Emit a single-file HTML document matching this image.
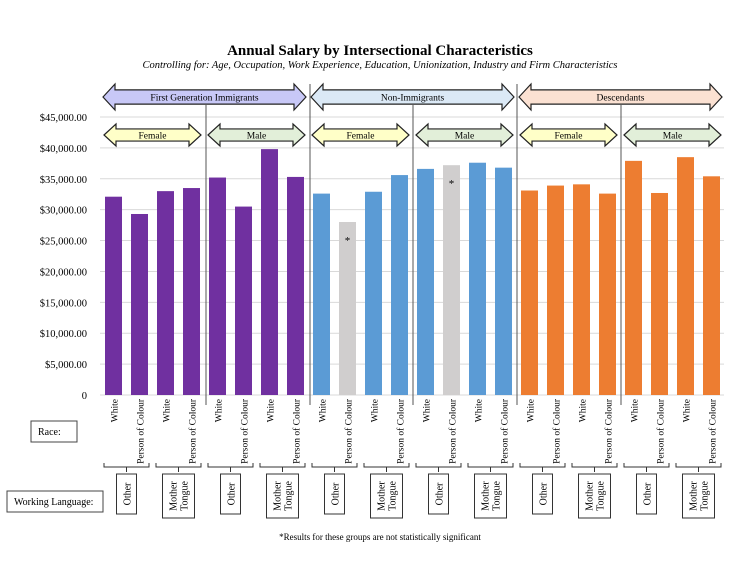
<!DOCTYPE html>
<html><head><meta charset="utf-8"><style>
body{margin:0;background:#fff;}
svg{display:block;font-family:"Liberation Serif",serif;}
</style></head><body>
<svg id="chart" width="754" height="583" viewBox="0 0 754 583">
<text x="380" y="55" text-anchor="middle" font-size="15" font-weight="bold">Annual Salary by Intersectional Characteristics</text>
<text x="380" y="68" text-anchor="middle" font-size="10.5" font-style="italic">Controlling for:  Age, Occupation, Work Experience, Education, Unionization, Industry and Firm Characteristics</text>
<g id="grid"></g><g id="bars"></g><g id="ann"></g>
</svg>
<script>
const categories=["White","Person of Colour","White","Person of Colour","White","Person of Colour","White","Person of Colour","White","Person of Colour","White","Person of Colour","White","Person of Colour","White","Person of Colour","White","Person of Colour","White","Person of Colour","White","Person of Colour","White","Person of Colour"];
const salaries=[32100,29300,33000,33500,35200,30500,39800,35300,32600,28000,32900,35600,36600,37200,37600,36800,33100,33900,34100,32600,37900,32700,38500,35400];
const notSignificant=[9,13];
const tickValues=[0,5000,10000,15000,20000,25000,30000,35000,40000,45000];
const tickLabels=["0","$5,000.00","$10,000.00","$15,000.00","$20,000.00","$25,000.00","$30,000.00","$35,000.00","$40,000.00","$45,000.00"];
const groups=["First Generation Immigrants","Non-Immigrants","Descendants"];
const genders=["Female","Male"];
const languages=["Other","Mother Tongue"];

const NS="http://www.w3.org/2000/svg";
function mk(parent,tag,attrs,text){const e=document.createElementNS(NS,tag);for(const k in attrs)e.setAttribute(k,attrs[k]);if(text!=null)e.textContent=text;parent.appendChild(e);return e;}
const y=v=>395-v*278/45000;
const x=i=>105+26*i;
const BW=17;
const grid=document.getElementById('grid'),bars=document.getElementById('bars'),ann=document.getElementById('ann');
tickValues.forEach((v,i)=>{
 const l=mk(grid,'line',{x1:100,x2:724,y1:y(v),y2:y(v),stroke:'#d9d9d9','stroke-width':1});
 
 
 const t=mk(grid,'text',{x:87,y:y(v)+4,'text-anchor':'end','font-size':10.5},tickLabels[i]);
 
 
});
[206,310,413,517,621].forEach((sx,k)=>{
 const top=(k%2===1)?84:105;
 const l=mk(grid,'line',{x1:sx,x2:sx,y1:top,y2:405,stroke:'#555','stroke-width':1});
 
 
});
const colors=['#7030a0','#5b9bd5','#ed7d31'];
salaries.forEach((v,i)=>{
 const g=Math.floor(i/8);
 const grey=notSignificant.includes(i);
 const r=mk(bars,'rect',{x:x(i),y:y(v),width:BW,height:395-y(v),fill:grey?'#d0cece':colors[g]});
 
 
 if(grey){const s=mk(bars,'text',{x:x(i)+BW/2,y:y(v)+22,'text-anchor':'middle','font-size':11},'*');
  
  }
 const t=mk(ann,'text',{transform:`translate(${x(i)+BW/2+4},399) rotate(-90)`,'text-anchor':'end','font-size':9.5},categories[i]);
 
 
});
function arrow(x1,x2,yc,h,fill,label,name){
 const hw=h/2, ah=12, sh=hw*0.55;
 const d=`M${x1},${yc} L${x1+ah},${yc-hw} L${x1+ah},${yc-sh} L${x2-ah},${yc-sh} L${x2-ah},${yc-hw} L${x2},${yc} L${x2-ah},${yc+hw} L${x2-ah},${yc+sh} L${x1+ah},${yc+sh} L${x1+ah},${yc+hw} Z`;
 const p=mk(ann,'path',{d,fill,stroke:'#222','stroke-width':1.2});
 
 
 const t=mk(ann,'text',{x:(x1+x2)/2,y:yc+3.5,'text-anchor':'middle','font-size':9.5},label);
 
 
}
const gfill=['#c8c8f7','#dbe9f6','#fbe1d2'];
groups.forEach((gname,g)=>{
 const x0=x(g*8)-2, x1=x(g*8+7)+BW+2;
 arrow(x0,x1,97,26,gfill[g],gname,'group-arrow');
 genders.forEach((gd,k)=>{
  const a=x(g*8+k*4)-1,b=x(g*8+k*4+3)+BW+1;
  arrow(a,b,135,22,k?'#e2efd9':'#ffffc8',gd,'gender-arrow');
 });
});
for(let p=0;p<12;p++){
 const a=x(p*2)-1,b=x(p*2+1)+BW+1,m=(a+b)/2;
 const br=mk(ann,'path',{d:`M${a},463 L${a},467 L${b},467 L${b},463 M${m},467 L${m},472`,fill:'none',stroke:'#333','stroke-width':1});
 
 
 const lang=languages[p%2];
 const w=lang==='Other'?20:32,h=lang==='Other'?40:44;
 const bx=mk(ann,'rect',{x:m-w/2,y:474,width:w,height:h,fill:'#fff',stroke:'#333','stroke-width':1});
 
 
 if(lang==='Other'){
  const t=mk(ann,'text',{transform:`translate(${m+4},${474+h/2}) rotate(-90)`,'text-anchor':'middle','font-size':10},'Other');
  
  
 }else{
  const t=mk(ann,'text',{transform:`translate(${m-2},${474+h/2}) rotate(-90)`,'text-anchor':'middle','font-size':10},'Mother');
  
  
  const t2=mk(ann,'text',{transform:`translate(${m+9},${474+h/2}) rotate(-90)`,'text-anchor':'middle','font-size':10},'Tongue');
  
  
 }
}
</script>
<svg style="position:absolute;left:0;top:0" width="754" height="583">
<rect x="31" y="421" width="46" height="21" fill="#fff" stroke="#444"/>
<text x="38" y="435" font-size="10" font-family="Liberation Serif">Race:</text>
<rect x="7" y="491" width="96" height="21" fill="#fff" stroke="#444"/>
<text x="14" y="505" font-size="10" font-family="Liberation Serif">Working Language:</text>
<text x="380" y="540" text-anchor="middle" font-size="9" font-family="Liberation Serif">*Results for these groups are not statistically significant</text>
</svg>
</body></html>
